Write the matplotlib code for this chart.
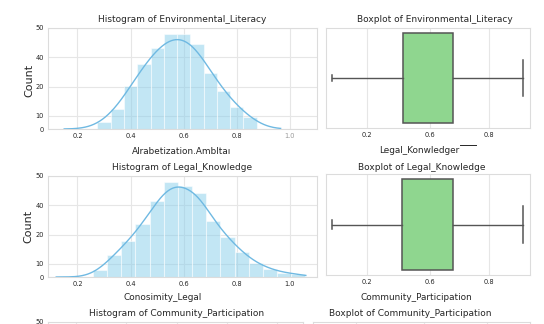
import numpy as np
import matplotlib
matplotlib.use("Agg")
import matplotlib.pyplot as plt
from matplotlib.lines import Line2D

W, H, DPI = 544, 324, 100

# ---- data -------------------------------------------------------------
# Environmental_Literacy histogram (bin start, bin width, counts)
env_bin_start = 0.275
env_bin_width = 0.05
env_counts = [3.5, 9.9, 21.3, 32.2, 40.1, 47.0, 47.0, 42.1, 27.7, 18.8, 10.9, 5.9]
env_kde_span = (0.15, 0.965)
env_kde_bw = 0.055

# Legal_Knowledge histogram
legal_bin_start = 0.2585
legal_bin_width = 0.0533
legal_counts = [3.5, 11.1, 17.8, 26.2, 37.6, 47.0, 45.0, 41.6, 27.7, 19.8,
                12.4, 6.9, 4.0, 2.0, 1.5]
legal_kde_span = (0.12, 1.06)
legal_kde_bw = 0.045

# Boxplot summaries: whisker low, q1, median, q3, whisker high
env_box = dict(whislo=0.031, q1=0.376, med=0.50, q3=0.624, whishi=0.966)
legal_box = dict(whislo=0.031, q1=0.374, med=0.50, q3=0.624, whishi=0.966)
env_caps = (0.047, 0.317)
legal_caps = (0.079, 0.317)

hist_xticks = [0.2, 0.4, 0.6, 0.8, 1.0]
hist_xticklabels = ["0.2", "0.4", "0.6", "0.8", "1.0"]
hist_yticks = [0, 6.6, 21.0, 35.6, 50]
hist_yticklabels = ["0", "10", "20", "40", "50"]
box_xticks = [0.2, 0.511, 0.8]
box_xticklabels = ["0.2", "0.6", "0.8"]

# ---- style ------------------------------------------------------------
plt.rcParams["font.family"] = ["DejaVu Sans"]
BAR_COLOR = "skyblue"
LINE_COLOR = "#6fb9e2"
BOX_COLOR = "#8fd68f"
EDGE_GRAY = "#555555"
GRID = "#e6e6e6"
SPINE = "#dcdcdc"
TXT = "#262626"

fig = plt.figure(figsize=(W / DPI, H / DPI), dpi=DPI)


def px_axes(left, top, right, bottom):
    return fig.add_axes([left / W, 1 - bottom / H, (right - left) / W, (bottom - top) / H])


def px_text(x, y, s, **kw):
    fig.text(x / W, 1 - y / H, s, ha=kw.pop("ha", "center"), va=kw.pop("va", "center"),
             color=kw.pop("color", TXT), **kw)


def style(ax):
    ax.set_facecolor("white")
    ax.grid(True, color=GRID, linewidth=0.8)
    ax.set_axisbelow(True)
    for s in ax.spines.values():
        s.set_color(SPINE)
        s.set_linewidth(0.8)
    ax.tick_params(length=0, labelsize=4.8, colors=TXT, pad=3)


def hist_panel(ax, start, width, counts, span, bw):
    counts = np.asarray(counts, dtype=float)
    edges = start + width * np.arange(len(counts) + 1)
    centers = 0.5 * (edges[:-1] + edges[1:])
    ax.bar(edges[:-1], counts, width=width, align="edge", color=BAR_COLOR,
           alpha=0.5, edgecolor="white", linewidth=0.8, zorder=2)
    # Gaussian KDE of the binned sample, expressed as counts per bin
    grid = np.linspace(span[0], span[1], 300)
    z = (grid[:, None] - centers[None, :]) / bw
    dens = (counts[None, :] * np.exp(-0.5 * z ** 2)).sum(axis=1) / (bw * np.sqrt(2 * np.pi))
    ax.plot(grid, dens * width, color=LINE_COLOR, linewidth=1.0, zorder=3)
    ax.set_xlim(0.089, 1.102)
    ax.set_ylim(0, 50)
    ax.set_xticks(hist_xticks, hist_xticklabels)
    ax.set_yticks(hist_yticks, hist_yticklabels)
    style(ax)


def box_panel(ax, stats, caps):
    st = dict(stats)
    st["fliers"] = []
    art = ax.bxp([st], positions=[0], widths=0.8, vert=False, patch_artist=True,
                 showfliers=False,
                 boxprops=dict(facecolor=BOX_COLOR, edgecolor=EDGE_GRAY, linewidth=1.1),
                 whiskerprops=dict(color=EDGE_GRAY, linewidth=1.0),
                 capprops=dict(color=EDGE_GRAY, linewidth=1.1),
                 medianprops=dict(linewidth=0))
    for cap, half in zip(art["caps"], caps):
        cap.set_ydata([-half / 2, half / 2])
    ax.set_xlim(0.0, 1.0)
    ax.set_ylim(-0.44, 0.44)
    ax.set_yticks([])
    ax.set_xticks(box_xticks, box_xticklabels)
    style(ax)


# Row 1
ax1 = px_axes(48, 28, 317, 129)
hist_panel(ax1, env_bin_start, env_bin_width, env_counts, env_kde_span, env_kde_bw)
ax1.get_xticklabels()[-1].set_color("#9a9a9a")
ax2 = px_axes(326, 28, 530, 128)
box_panel(ax2, env_box, env_caps)

# Row 2
ax3 = px_axes(48, 176, 317, 277)
hist_panel(ax3, legal_bin_start, legal_bin_width, legal_counts, legal_kde_span, legal_kde_bw)
ax4 = px_axes(326, 174, 530, 275)
box_panel(ax4, legal_box, legal_caps)

# Row 3 (only its top edge is inside the figure)
ax5 = px_axes(48, 322, 303, 423)
ax5.set_xlim(0.089, 1.102)
ax5.set_ylim(0, 50)
ax5.set_xticks(hist_xticks, [])
ax5.set_yticks(hist_yticks, hist_yticklabels)
style(ax5)
ax6 = px_axes(313, 322, 530, 423)
ax6.set_xticks(box_xticks, [])
ax6.set_xlim(0.0, 1.0)
ax6.set_yticks([])
style(ax6)

# Titles and axis labels
TS = 6.5
px_text(182, 20, "Histogram of Environmental_Literacy", fontsize=TS)
px_text(435, 20, "Boxplot of Environmental_Literacy", fontsize=TS)
px_text(182, 167, "Histogram of Legal_Knowledge", fontsize=TS)
px_text(422, 167, "Boxplot of Legal_Knowledge", fontsize=TS)
px_text(177, 314, "Histogram of Community_Participation", fontsize=TS)
px_text(410, 314, "Boxplot of Community_Participation", fontsize=TS)

LS = 6.4
px_text(182, 151, "Alrabetization.Ambltaı", fontsize=LS)
px_text(419, 150, "Legal_Konwledger", fontsize=LS)
fig.add_artist(Line2D([460 / W, 476 / W], [1 - 145 / H, 1 - 145 / H],
                      color=TXT, linewidth=0.7))
px_text(163, 297, "Conosimity_Legal", fontsize=LS)
px_text(416, 297, "Community_Participation", fontsize=LS)
px_text(29, 80, "Count", fontsize=8, rotation=90)
px_text(28, 226, "Count", fontsize=8, rotation=90)

fig.savefig("out.png", dpi=DPI, facecolor="white")
